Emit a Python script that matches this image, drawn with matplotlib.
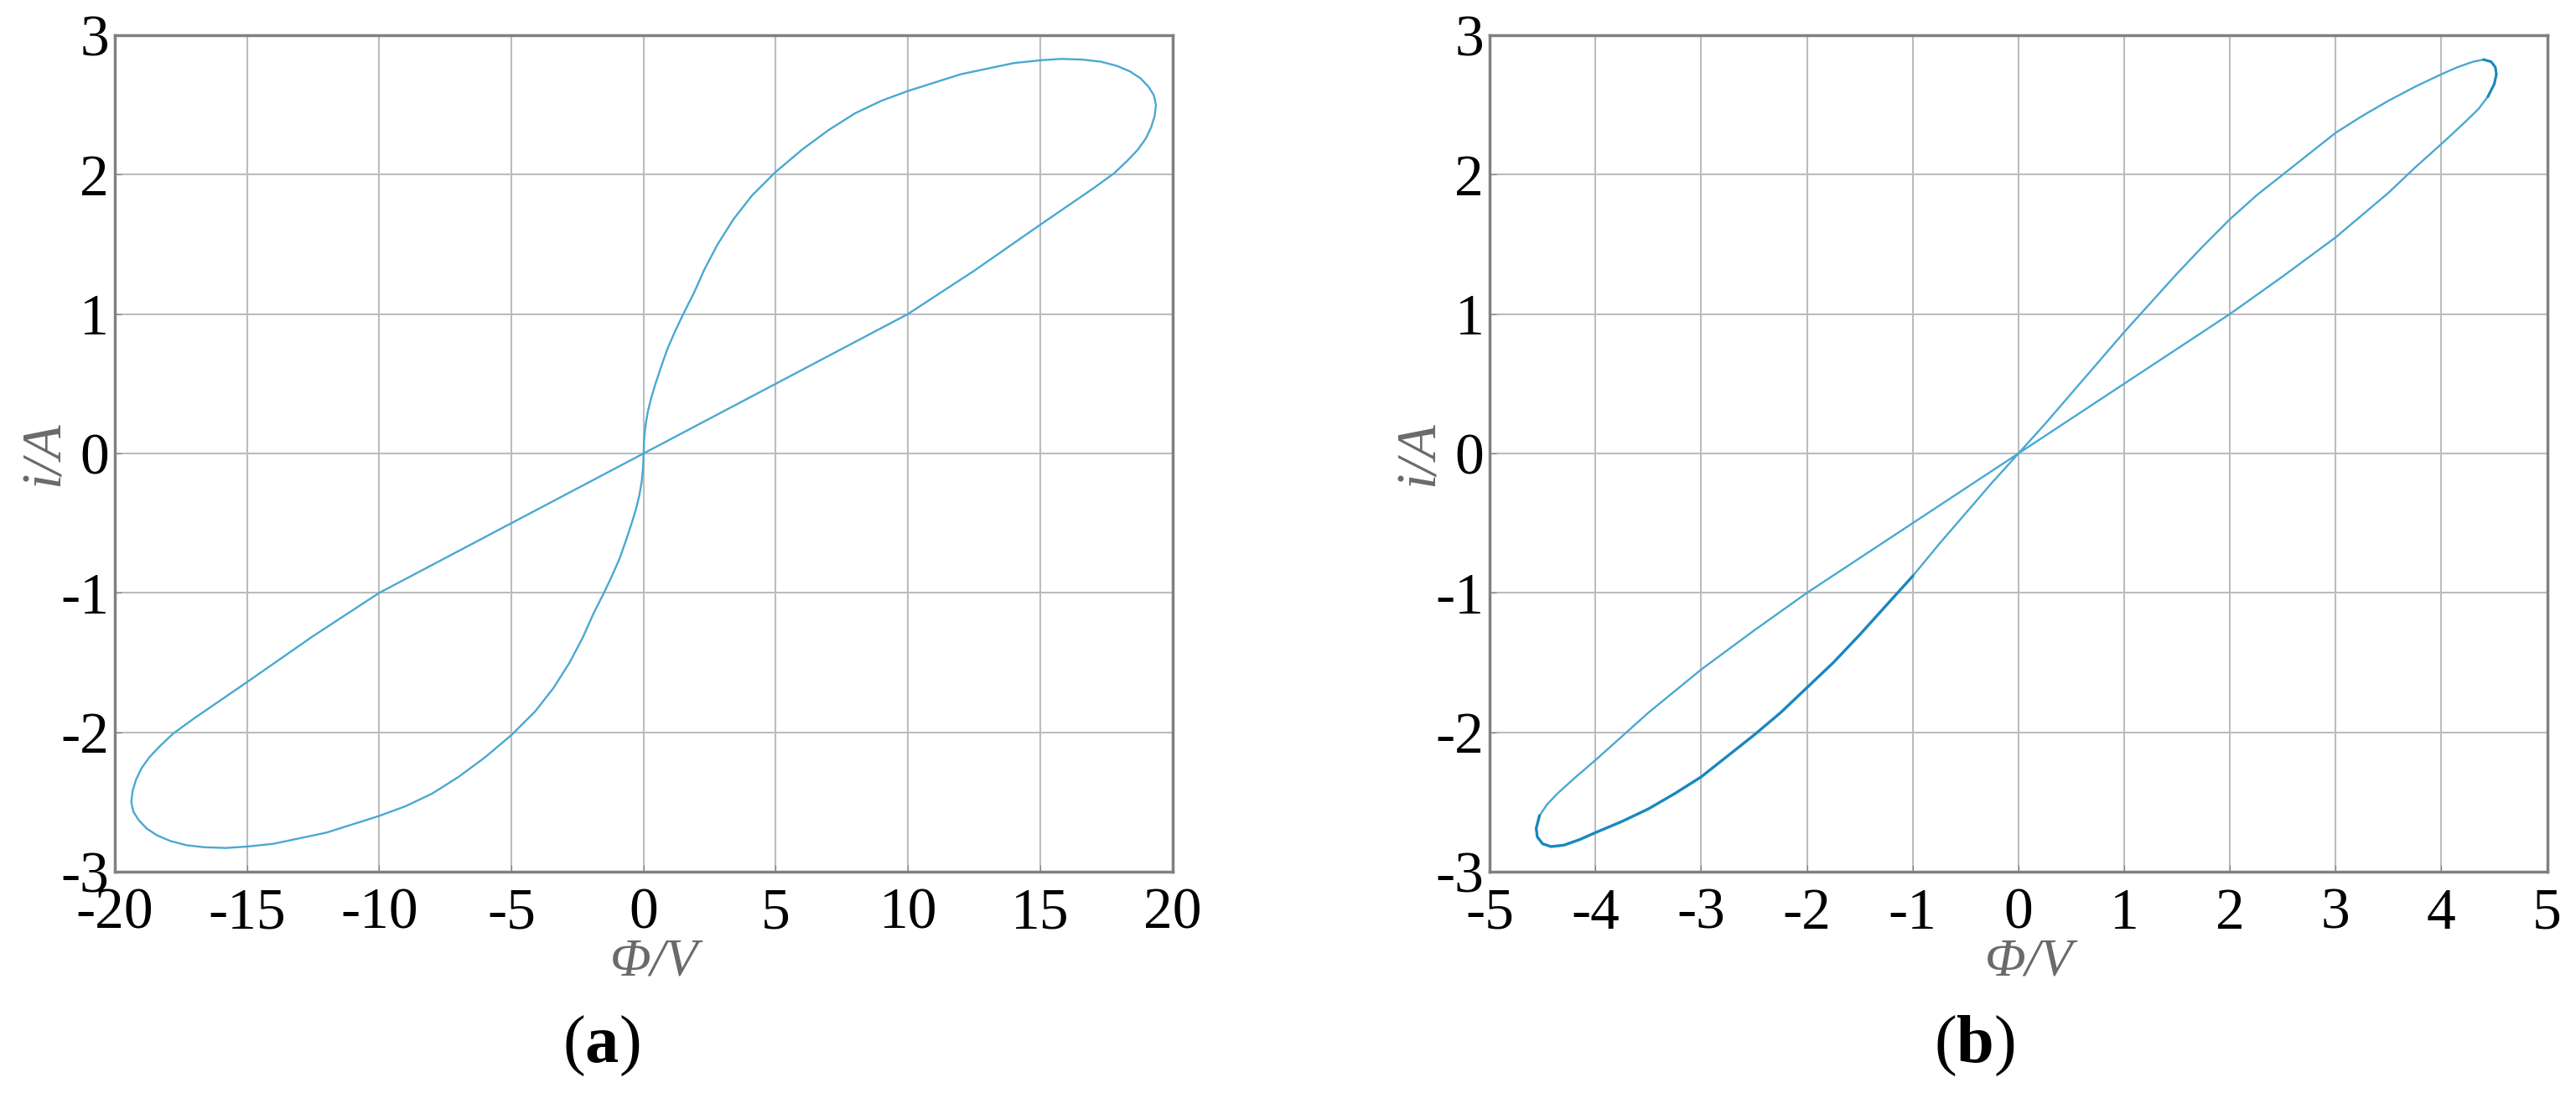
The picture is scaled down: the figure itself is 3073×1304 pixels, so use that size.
import numpy as np
from matplotlib import pyplot as plt

# panel (a): flux Phi [V] vs current i [A], one closed pinched loop
phi_a = [0.0, 0.02, 0.07, 0.16, 0.29, 0.45, 0.66, 0.9, 1.2, 1.5, 1.9, 2.3, 2.8, 3.4, 4.1,
         5.0, 6.0, 7.0, 8.0, 9.0, 10.0, 11.0, 12.0, 13.0, 14.0, 15.0, 15.8, 16.6, 17.3,
         17.9, 18.4, 18.8, 19.1, 19.3, 19.38, 19.33, 19.2, 19.0, 18.7, 18.3, 17.8, 17.0,
         16.0, 15.0, 12.5, 10.0, 7.5, 5.0, 2.5, 0.0,
         -0.02, -0.07, -0.16, -0.29, -0.45, -0.66, -0.9, -1.2, -1.5, -1.9, -2.3, -2.8, -3.4, -4.1,
         -5.0, -6.0, -7.0, -8.0, -9.0, -10.0, -11.0, -12.0, -13.0, -14.0, -15.0, -15.8, -16.6, -17.3,
         -17.9, -18.4, -18.8, -19.1, -19.3, -19.38, -19.33, -19.2, -19.0, -18.7, -18.3, -17.8, -17.0,
         -16.0, -15.0, -12.5, -10.0, -7.5, -5.0, -2.5, 0.0]
i_a = [0.0, 0.1, 0.2, 0.3, 0.4, 0.5, 0.62, 0.75, 0.88, 1.0, 1.15, 1.32, 1.5, 1.68, 1.85,
       2.02, 2.18, 2.32, 2.44, 2.53, 2.6, 2.66, 2.72, 2.76, 2.8, 2.82, 2.83, 2.825, 2.81,
       2.78, 2.74, 2.69, 2.63, 2.57, 2.5, 2.42, 2.34, 2.26, 2.18, 2.1, 2.01, 1.9,
       1.77, 1.64, 1.31, 1.0, 0.75, 0.5, 0.25, 0.0,
       -0.1, -0.2, -0.3, -0.4, -0.5, -0.62, -0.75, -0.88, -1.0, -1.15, -1.32, -1.5, -1.68, -1.85,
       -2.02, -2.18, -2.32, -2.44, -2.53, -2.6, -2.66, -2.72, -2.76, -2.8, -2.82, -2.83, -2.825, -2.81,
       -2.78, -2.74, -2.69, -2.63, -2.57, -2.5, -2.42, -2.34, -2.26, -2.18, -2.1, -2.01, -1.9,
       -1.77, -1.64, -1.31, -1.0, -0.75, -0.5, -0.25, 0.0]

# panel (b)
phi_b = [0.0, 0.25, 0.5, 0.75, 1.0, 1.25, 1.5, 1.75, 2.0, 2.25, 2.5, 2.75, 3.0, 3.25,
         3.5, 3.75, 4.0, 4.15, 4.3, 4.4, 4.47, 4.51, 4.52, 4.5, 4.44, 4.35, 4.2, 4.0,
         3.75, 3.5, 3.0, 2.5, 2.0, 1.5, 1.0, 0.5, 0.0,
         -0.25, -0.5, -0.75, -1.0, -1.25, -1.5, -1.75, -2.0, -2.25, -2.5, -2.75, -3.0, -3.25,
         -3.5, -3.75, -4.0, -4.15, -4.3, -4.42, -4.5, -4.55, -4.56, -4.53, -4.46, -4.36, -4.2, -4.0,
         -3.75, -3.5, -3.0, -2.5, -2.0, -1.5, -1.0, -0.5, 0.0]
i_b = [0.0, 0.21, 0.43, 0.65, 0.87, 1.08, 1.29, 1.49, 1.68, 1.85, 2.0, 2.15, 2.3, 2.42,
       2.53, 2.63, 2.72, 2.77, 2.81, 2.825, 2.81, 2.77, 2.72, 2.65, 2.56, 2.47, 2.36, 2.22,
       2.05, 1.87, 1.55, 1.27, 1.0, 0.75, 0.5, 0.25, 0.0,
       -0.21, -0.43, -0.65, -0.88, -1.09, -1.3, -1.5, -1.68, -1.86, -2.02, -2.17, -2.32, -2.44,
       -2.55, -2.64, -2.72, -2.77, -2.81, -2.82, -2.8, -2.75, -2.69, -2.6, -2.52, -2.44, -2.33, -2.2,
       -2.03, -1.86, -1.55, -1.27, -1.0, -0.75, -0.5, -0.25, 0.0]

xticks_a = [-20, -15, -10, -5, 0, 5, 10, 15, 20]
xticks_b = [-5, -4, -3, -2, -1, 0, 1, 2, 3, 4, 5]
yticks = [-3, -2, -1, 0, 1, 2, 3]

plt.rcParams['font.family'] = 'Liberation Serif'
plt.rcParams['mathtext.fontset'] = 'custom'
plt.rcParams['mathtext.rm'] = 'Liberation Serif'
plt.rcParams['mathtext.bf'] = 'Liberation Serif:bold'

line_col = '#4aa8d2'
fig = plt.figure(figsize=(30.73, 13.04), dpi=100)

panels = [
    (0.0446, phi_a, i_a, xticks_a, 0.2333, 'a'),
    (0.5783, phi_b, i_b, xticks_b, 0.7665, 'b'),
]

for left, x, y, xt, lab_x, tag in panels:
    ax = fig.add_axes([left, 0.2025, 0.4105, 0.7653])
    ax.plot(x, y, color=line_col, lw=1.7, solid_joinstyle='round')
    if tag == 'b':
        # overdrawn parts of the trace look darker
        ax.plot(phi_b[40:60], i_b[40:60], color='#1a88bd', lw=2.4, solid_joinstyle='round')
        ax.plot(phi_b[19:25], i_b[19:25], color='#1a88bd', lw=2.2, solid_joinstyle='round')
    ax.set_xlim(xt[0], xt[-1])
    ax.set_ylim(-3, 3)
    ax.set_xticks(xt)
    ax.set_yticks(yticks)
    ax.set_xticklabels([str(v) for v in xt])
    ax.set_yticklabels([str(v) for v in yticks])
    ax.grid(True, color='#bcbcbc', lw=1.5)
    ax.set_axisbelow(True)
    for s in ax.spines.values():
        s.set_color('#808080')
        s.set_linewidth(2.5)
    ax.tick_params(axis='x', direction='in', length=6, color='#808080', labelsize=50, pad=14)
    ax.tick_params(axis='y', direction='in', length=6, color='#808080', labelsize=50, pad=5)
    ax.set_xlabel('Φ/V', fontsize=46, color='#6a6a6a', style='italic')
    ax.xaxis.set_label_coords(0.51, -0.08)
    ax.set_ylabel('i/A', fontsize=48, color='#6a6a6a', style='italic')
    ax.yaxis.set_label_coords(-0.042, 0.5)
    fig.text(lab_x, 0.043, r'$\mathrm{(}\mathbf{' + tag + r'}\mathrm{)}$',
             fontsize=58, ha='center', va='center')

fig.savefig('out.png', dpi=100)
